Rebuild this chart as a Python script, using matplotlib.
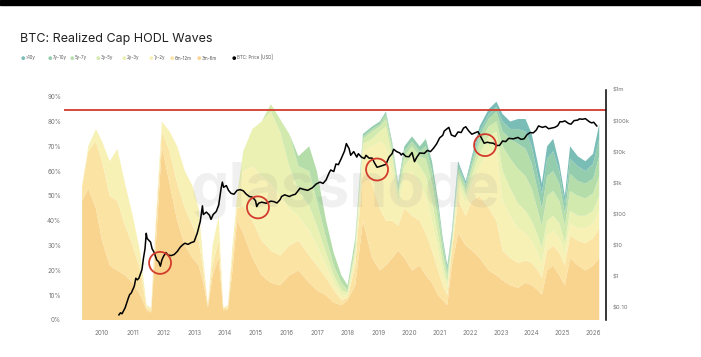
import matplotlib
matplotlib.use('Agg')
import matplotlib.pyplot as plt
from matplotlib.patches import Rectangle
from matplotlib.ticker import NullLocator

plt.rcParams['font.family'] = ['Inter', 'DejaVu Sans']

# --- data --------------------------------------------------------------------
wave_years = [2009.35, 2009.55, 2009.8, 2010.0, 2010.25, 2010.5, 2010.75, 2011.0, 2011.25, 2011.45,
              2011.6, 2011.75, 2011.95, 2012.2, 2012.45, 2012.7, 2012.95, 2013.15, 2013.3, 2013.45,
              2013.6, 2013.8, 2013.95, 2014.1, 2014.25, 2014.4, 2014.6, 2014.9, 2015.2, 2015.5,
              2015.8, 2016.1, 2016.4, 2016.75, 2017.0, 2017.3, 2017.55, 2017.8, 2018.0, 2018.25,
              2018.5, 2018.8, 2019.05, 2019.25, 2019.45, 2019.65, 2019.85, 2020.1, 2020.35, 2020.55,
              2020.75, 2020.95, 2021.1, 2021.25, 2021.4, 2021.6, 2021.85, 2022.05, 2022.3, 2022.6,
              2022.85, 2023.05, 2023.3, 2023.55, 2023.8, 2024.0, 2024.2, 2024.33, 2024.5, 2024.7,
              2024.9, 2025.08, 2025.25, 2025.5, 2025.75, 2026.0, 2026.2]

# share of realized cap (%) per age band
hodl_3m_6m = [48, 53, 45, 32, 22, 20, 18, 15, 10, 4, 3, 30, 70, 55, 40, 30, 25, 22, 15, 5,
              18, 25, 4, 4, 20, 40, 35, 25, 18, 15, 14, 18, 20, 15, 12, 10, 7, 6, 8, 14,
              40, 25, 20, 22, 25, 28, 25, 20, 22, 18, 15, 10, 8, 6, 22, 35, 30, 28, 25, 20,
              18, 16, 14, 13, 15, 14, 12, 10, 20, 22, 18, 14, 25, 22, 20, 22, 25]
hodl_6m_12m = [6, 15, 27, 32, 28, 28, 20, 15, 10, 1, 1, 8, 6, 13, 15, 15, 13, 10, 5, 1,
               4, 7, 1, 1, 6, 5, 11, 15, 14, 13, 12, 12, 12, 11, 10, 7, 5, 2, 1, 8,
               20, 30, 25, 18, 15, 10, 20, 22, 18, 17, 13, 10, 6, 4, 6, 13, 12, 20, 25, 25,
               22, 12, 11, 10, 9, 9, 8, 7, 8, 8, 9, 8, 9, 10, 11, 11, 12]
hodl_1y_2y = [0, 2, 5, 8, 14, 21, 17, 12, 7, 1, 1, 2, 4, 8, 15, 15, 16, 13, 4, 0,
              8, 10, 0, 1, 4, 5, 14, 22, 26, 27, 24, 15, 10, 10, 8, 5, 3, 2, 1, 4,
              8, 15, 27, 30, 20, 8, 13, 18, 15, 15, 12, 8, 5, 3, 2, 6, 5, 7, 12, 23,
              28, 20, 17, 14, 11, 9, 7, 6, 6, 6, 6, 5, 5, 5, 6, 6, 7]
hodl_2y_3y = [0] * 26 + [8, 15, 22, 29, 26, 17, 10, 10, 8, 5, 3, 2, 1, 2,
                         3, 3, 4, 8, 6, 4, 4, 6, 7, 8, 8, 6, 4, 2, 1, 3, 3, 3, 5, 6,
                         8, 12, 11, 10, 9, 8, 7, 6, 6, 6, 6, 4, 5, 5, 5, 5, 6]
hodl_3y_5y = [0] * 29 + [3, 5, 13, 10, 14, 10, 6, 4, 3, 1, 2,
                         2, 3, 2, 3, 3, 2, 4, 4, 4, 7, 7, 6, 4, 3, 1, 2, 2, 3, 4, 4,
                         4, 10, 12, 14, 14, 13, 10, 9, 10, 10, 9, 7, 8, 8, 7, 7, 8]
hodl_5y_7y = [0] * 32 + [4, 10, 12, 7, 5, 3, 2, 3,
                         1, 1, 1, 2, 2, 2, 2, 2, 2, 5, 5, 5, 4, 2, 2, 2, 2, 2, 3, 3,
                         4, 6, 8, 10, 11, 10, 8, 7, 8, 8, 7, 5, 7, 6, 6, 6, 8]
hodl_7y_10y = [0] * 40 + [1, 1, 1, 1, 1, 1, 2, 2, 2, 3, 4, 3, 2, 2, 1, 2, 1, 2, 2, 2,
                          2, 4, 4, 6, 7, 7, 6, 6, 7, 8, 5, 4, 6, 6, 5, 6, 7]
hodl_10y = [0] * 54 + [1, 1, 1, 1, 2, 2, 2, 3, 3, 4, 5, 5, 5, 4, 5, 5, 3, 3, 5, 4, 4, 4, 6]

band_labels = ['>10y', '7y-10y', '5y-7y', '3y-5y', '2y-3y', '1y-2y', '6m-12m', '3m-6m']

price_years = [2010.55, 2010.6, 2010.65, 2010.75, 2010.85, 2010.9, 2010.95, 2011.05, 2011.1, 2011.15,
               2011.2, 2011.3, 2011.35, 2011.4, 2011.44, 2011.47, 2011.52, 2011.58, 2011.63, 2011.7,
               2011.78, 2011.85, 2011.9, 2011.95, 2012.0, 2012.08, 2012.15, 2012.25, 2012.35, 2012.45,
               2012.55, 2012.62, 2012.7, 2012.8, 2012.9, 2013.0, 2013.1, 2013.2, 2013.27, 2013.3,
               2013.4, 2013.5, 2013.55, 2013.62, 2013.72, 2013.8, 2013.88, 2013.92, 2013.96, 2014.05,
               2014.12, 2014.2, 2014.3, 2014.4, 2014.5, 2014.6, 2014.7, 2014.8, 2014.9, 2015.0,
               2015.04, 2015.1, 2015.2, 2015.35, 2015.5, 2015.6, 2015.7, 2015.8, 2015.85, 2015.95,
               2016.1, 2016.2, 2016.3, 2016.45, 2016.55, 2016.7, 2016.85, 2016.98, 2017.1, 2017.2,
               2017.3, 2017.4, 2017.45, 2017.55, 2017.62, 2017.7, 2017.8, 2017.9, 2017.96, 2018.05,
               2018.1, 2018.2, 2018.3, 2018.35, 2018.45, 2018.55, 2018.6, 2018.7, 2018.8, 2018.88,
               2018.96, 2019.05, 2019.15, 2019.25, 2019.35, 2019.45, 2019.5, 2019.6, 2019.7, 2019.75,
               2019.8, 2019.9, 2020.0, 2020.1, 2020.18, 2020.25, 2020.35, 2020.5, 2020.6, 2020.7,
               2020.8, 2020.9, 2021.0, 2021.1, 2021.15, 2021.25, 2021.3, 2021.38, 2021.5, 2021.6,
               2021.7, 2021.78, 2021.85, 2021.95, 2022.05, 2022.15, 2022.25, 2022.35, 2022.45, 2022.55,
               2022.65, 2022.75, 2022.85, 2022.95, 2023.05, 2023.15, 2023.25, 2023.4, 2023.55, 2023.65,
               2023.75, 2023.85, 2023.95, 2024.05, 2024.15, 2024.22, 2024.35, 2024.45, 2024.55, 2024.65,
               2024.75, 2024.85, 2024.92, 2025.0, 2025.08, 2025.2, 2025.28, 2025.38, 2025.5, 2025.55,
               2025.65, 2025.75, 2025.8, 2025.88, 2025.95, 2026.02, 2026.08, 2026.12]
price_usd = [0.06, 0.07, 0.065, 0.1, 0.2, 0.27, 0.3, 0.5, 0.9, 0.8,
             0.9, 1.7, 4, 8, 25, 17, 15, 13, 8, 6,
             3.5, 3, 2.2, 3.5, 4.5, 6, 5, 4.8, 5.2, 6.5,
             9, 10.5, 12, 11, 12.5, 13.5, 25, 60, 190, 100,
             120, 95, 70, 100, 125, 200, 700, 1100, 750, 850,
             600, 480, 450, 600, 630, 580, 450, 380, 360, 280,
             180, 230, 250, 230, 270, 260, 235, 300, 380, 430,
             380, 420, 450, 700, 650, 600, 720, 960, 1100, 1000,
             1300, 2200, 2700, 2400, 4200, 4000, 6500, 11000, 19000, 13000,
             8000, 10500, 7000, 9000, 7000, 6300, 8000, 6500, 6500, 4500,
             3300, 3500, 3800, 4100, 7000, 9000, 12500, 10500, 9500, 8200,
             9200, 7300, 7200, 9800, 5000, 6800, 9500, 9200, 11500, 10500,
             13500, 18500, 29000, 35000, 48000, 58000, 63000, 36000, 32000, 45000,
             43000, 60000, 66000, 48000, 38000, 42000, 46000, 30000, 19500, 21000,
             20000, 19500, 16500, 16600, 23000, 22000, 28000, 27000, 30000, 26000,
             27000, 37000, 43000, 42000, 52000, 70000, 63000, 68000, 57000, 60000,
             63000, 72000, 96000, 95000, 102000, 84000, 80000, 104000, 108000, 118000,
             115000, 120000, 110000, 95000, 88000, 92000, 78000, 70000]

# red circles drawn around cycle lows
circle_years = [2011.89, 2015.08, 2018.96, 2022.48]
circle_prices = [2.8, 170, 2800, 17000]
red_line_pct = 84.7

year_ticks = list(range(2010, 2027))
pct_ticks = list(range(0, 100, 10))
price_ticks = [0.1, 1, 10, 100, 1e3, 1e4, 1e5, 1e6]
price_tick_labels = ['$0.10', '$1', '$10', '$100', '$1k', '$10k', '$100k', '$1m']

band_colors = ['#F9D48F', '#FBE3A4', '#F8F1B6', '#EBF1B2', '#D3EAAF', '#B4DDAA', '#94CDAE', '#79BDB6']
red = '#D33B2C'
grey = '#777777'

# --- figure ------------------------------------------------------------------
W, H = 701, 357
fig = plt.figure(figsize=(W / 100, H / 100), dpi=100)
fig.patches.append(Rectangle((0, 1 - 5 / H), 1, 5 / H, transform=fig.transFigure,
                             color='black', zorder=0))

ax = fig.add_axes([64 / W, 1 - 320 / H, (606 - 64) / W, (320 - 90) / H])
ax.stackplot(wave_years, hodl_3m_6m, hodl_6m_12m, hodl_1y_2y, hodl_2y_3y,
             hodl_3y_5y, hodl_5y_7y, hodl_7y_10y, hodl_10y,
             colors=band_colors, linewidth=0)
ax.axhline(red_line_pct, color=red, lw=1.3, zorder=4)
ax.set_xlim(2008.76, 2026.42)
ax.set_ylim(0, 92.7)
ax.set_xticks(year_ticks)
ax.set_xticklabels([str(y) for y in year_ticks])
ax.set_yticks(pct_ticks)
ax.set_yticklabels([f'{p}%' for p in pct_ticks])
ax.tick_params(axis='both', length=0, labelsize=4.5, colors=grey)
ax.tick_params(axis='x', pad=7)
ax.tick_params(axis='y', pad=2)
for s in ax.spines.values():
    s.set_visible(False)

ax.text(0.52, 0.56, 'glassnode', transform=ax.transAxes, ha='center', va='center',
        fontsize=44, fontweight='bold', color='#8a8a8a', alpha=0.12, zorder=3)

ax2 = ax.twinx()
ax2.set_yscale('log')
ax2.set_ylim(10 ** -1.387, 1e6)
ax2.plot(price_years, price_usd, color='black', lw=1.1)
ax2.scatter(circle_years, circle_prices, s=250, facecolors='none', edgecolors=red,
            linewidths=1.3, zorder=5)
ax2.set_yticks(price_ticks)
ax2.set_yticklabels(price_tick_labels)
ax2.yaxis.set_minor_locator(NullLocator())
ax2.tick_params(axis='y', length=0, labelsize=4.3, colors=grey, pad=5)
for name, s in ax2.spines.items():
    s.set_visible(name == 'right')
ax2.spines['right'].set_color('black')
ax2.spines['right'].set_linewidth(1.1)

# title + legend row
fig.text(20 / W, 1 - 42 / H, 'BTC: Realized Cap HODL Waves', fontsize=9,
         color='#222222', va='baseline')
legend_x = [23, 50, 72, 98, 124, 151, 172, 199, 234]
legend_labels = band_labels + ['BTC: Price [USD]']
legend_colors = band_colors[::-1] + ['black']
for x, lab, c in zip(legend_x, legend_labels, legend_colors):
    fig.text(x / W, 1 - 58 / H, '\u25CF', fontsize=3.6, color=c, ha='center', va='center')
    fig.text((x + 3) / W, 1 - 58 / H, lab, fontsize=3.2, color='#555555', va='center')

fig.savefig('out.png', dpi=100)
